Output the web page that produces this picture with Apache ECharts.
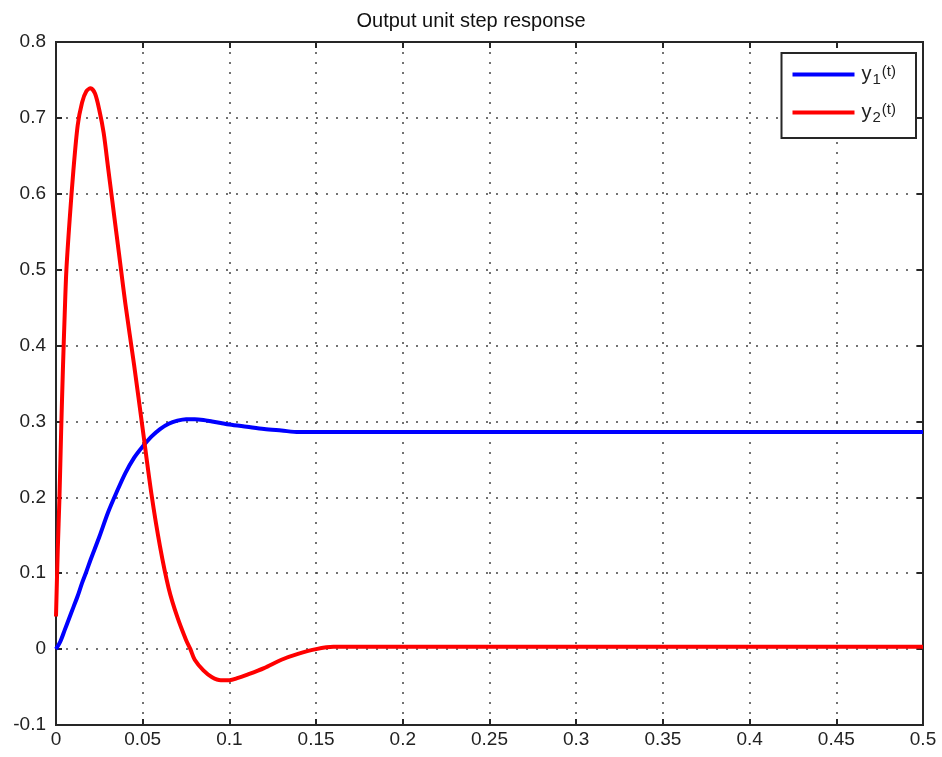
<!DOCTYPE html>
<html>
<head>
<meta charset="utf-8">
<script src="https://cdn.jsdelivr.net/npm/echarts@6/dist/echarts.min.js"></script>
<style>
html,body{margin:0;padding:0;background:#fff;}
#c{width:942px;height:757px;}
</style>
</head>
<body>
<div id="c"></div>
<script>
// Data
var titleText = 'Output unit step response';
var seriesNames = ['y1', 'y2'];

var t1 = [0, 0.0025, 0.005, 0.0075, 0.01, 0.0125, 0.015, 0.0175, 0.02, 0.025, 0.03, 0.035, 0.04, 0.045, 0.05, 0.055, 0.06, 0.065, 0.07, 0.075, 0.08, 0.085, 0.09, 0.095, 0.1, 0.11, 0.12, 0.13, 0.14, 0.15, 0.2, 0.3, 0.4, 0.5];
var y1 = [0, 0.01, 0.025, 0.04, 0.055, 0.07, 0.087, 0.102, 0.118, 0.148, 0.18, 0.207, 0.232, 0.252, 0.267, 0.28, 0.29, 0.297, 0.301, 0.303, 0.303, 0.302, 0.300, 0.298, 0.296, 0.293, 0.290, 0.288, 0.286, 0.286, 0.286, 0.286, 0.286, 0.286];

var t2 = [0, 0.001, 0.002, 0.003, 0.004, 0.005, 0.006, 0.008, 0.01, 0.0125, 0.015, 0.0175, 0.02, 0.0225, 0.025, 0.0275, 0.03, 0.0325, 0.035, 0.0375, 0.04, 0.045, 0.05, 0.055, 0.06, 0.065, 0.07, 0.075, 0.0775, 0.08, 0.085, 0.09, 0.095, 0.1, 0.105, 0.11, 0.12, 0.13, 0.14, 0.15, 0.16, 0.2, 0.3, 0.4, 0.5];
var y2 = [0.043, 0.13, 0.2, 0.29, 0.37, 0.44, 0.5, 0.57, 0.63, 0.69, 0.72, 0.735, 0.739, 0.732, 0.71, 0.68, 0.635, 0.59, 0.545, 0.5, 0.455, 0.375, 0.29, 0.205, 0.135, 0.08, 0.042, 0.012, 0, -0.014, -0.028, -0.037, -0.041, -0.041, -0.038, -0.034, -0.025, -0.014, -0.006, 0, 0.003, 0.003, 0.003, 0.003, 0.003];

var xTicks = {min: 0, max: 0.5, interval: 0.05};
var yTicks = {min: -0.1, max: 0.8, interval: 0.1};

function pairs(t, y) { return t.map(function (v, i) { return [v, y[i]]; }); }

var FONT = 'Liberation Sans, Arial, sans-serif';
var AX = '#262626';

var chart = echarts.init(document.getElementById('c'));
var gridLine = {show: true, lineStyle: {color: '#444', width: 1.5, type: [2, 8]}};

chart.setOption({
  animation: false,
  backgroundColor: '#fff',
  title: {
    text: titleText, left: 'center', top: 6,
    textStyle: {fontFamily: FONT, fontSize: 20, fontWeight: 'normal', color: '#111'}
  },
  grid: {left: 56, right: 19, top: 42, bottom: 32, show: true, borderColor: AX, borderWidth: 2, backgroundColor: '#fff'},
  legend: {
    orient: 'vertical', right: 26, top: 53,
    backgroundColor: '#fff', borderColor: AX, borderWidth: 2,
    padding: [9, 20, 13, 11], itemGap: 13, itemWidth: 62, itemHeight: 4,
    icon: 'rect',
    data: seriesNames,
    formatter: function (n) { return '{n|y}{s|' + n.slice(1) + '}{p|(t)}'; },
    textStyle: {
      fontFamily: FONT, color: '#222',
      rich: {
        n: {fontFamily: FONT, fontSize: 20, color: '#222', lineHeight: 22, padding: [0, 0, 0, 2]},
        s: {fontFamily: FONT, fontSize: 15, color: '#222', padding: [10, 1, 0, 1], lineHeight: 22},
        p: {fontFamily: FONT, fontSize: 15, color: '#222', padding: [0, 0, 6, 0], lineHeight: 22}
      }
    }
  },
  xAxis: [{
    type: 'value', min: xTicks.min, max: xTicks.max, interval: xTicks.interval,
    axisLine: {show: true, onZero: false, lineStyle: {color: AX, width: 2}},
    axisTick: {show: true, inside: true, length: 6, lineStyle: {color: AX, width: 2}},
    axisLabel: {fontFamily: FONT, fontSize: 19, color: '#222', margin: 5},
    splitLine: gridLine
  }, {
    type: 'value', position: 'top', min: xTicks.min, max: xTicks.max, interval: xTicks.interval,
    axisLine: {show: true, onZero: false, lineStyle: {color: AX, width: 2}},
    axisTick: {show: true, inside: true, length: 6, lineStyle: {color: AX, width: 2}},
    axisLabel: {show: false}, splitLine: {show: false}
  }],
  yAxis: [{
    type: 'value', min: yTicks.min, max: yTicks.max, interval: yTicks.interval,
    axisLine: {show: true, onZero: false, lineStyle: {color: AX, width: 2}},
    axisTick: {show: true, inside: true, length: 6, lineStyle: {color: AX, width: 2}},
    axisLabel: {fontFamily: FONT, fontSize: 19, color: '#222', margin: 10},
    splitLine: gridLine
  }, {
    type: 'value', position: 'right', min: yTicks.min, max: yTicks.max, interval: yTicks.interval,
    axisLine: {show: true, onZero: false, lineStyle: {color: AX, width: 2}},
    axisTick: {show: true, inside: true, length: 6, lineStyle: {color: AX, width: 2}},
    axisLabel: {show: false}, splitLine: {show: false}
  }],
  series: [{
    name: seriesNames[0], type: 'line', data: pairs(t1, y1), showSymbol: false, smooth: 0.3,
    lineStyle: {color: '#0000ff', width: 4}, itemStyle: {color: '#0000ff'}, z: 3
  }, {
    name: seriesNames[1], type: 'line', data: pairs(t2, y2), showSymbol: false, smooth: 0.3,
    lineStyle: {color: '#ff0000', width: 4}, itemStyle: {color: '#ff0000'}, z: 4
  }]
});
</script>
</body>
</html>
